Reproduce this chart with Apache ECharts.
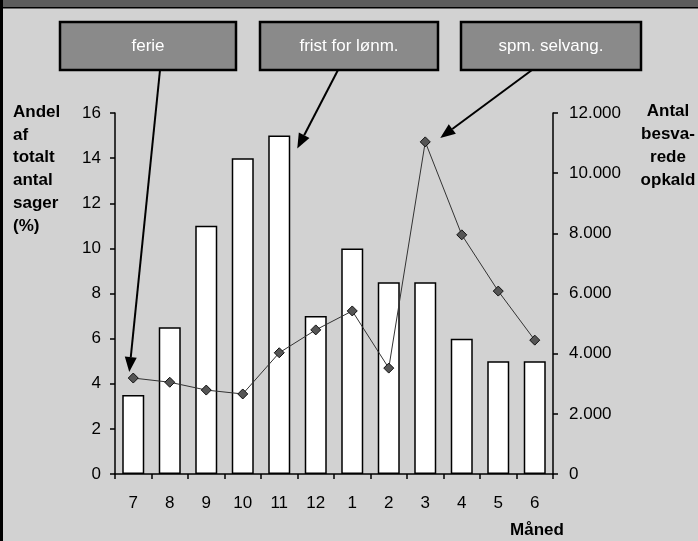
<!DOCTYPE html>
<html>
<head>
<meta charset="utf-8">
<script src="https://cdn.jsdelivr.net/npm/echarts@6/dist/echarts.min.js"></script>
<style>
html,body{margin:0;padding:0;background:#d2d2d2;}
#chart{width:698px;height:541px;}
</style>
</head>
<body>
<div id="chart"></div>
<script>
// Data
var months = ['7','8','9','10','11','12','1','2','3','4','5','6'];
var shareOfCases = [3.5, 6.5, 11, 14, 15, 7, 10, 8.5, 8.5, 6, 5, 5];          // left axis (%)
var answeredCalls = [3190, 3050, 2790, 2660, 4030, 4790, 5420, 3520, 11040, 7950, 6080, 4450]; // right axis
var leftTicks = {min: 0, max: 16, interval: 2};
var rightTicks = {min: 0, max: 12000, interval: 2000};
var leftTitle = 'Andel\naf\ntotalt\nantal\nsager\n(%)';
var rightTitle = 'Antal\nbesva-\nrede\nopkald';
var xTitle = 'Måned';
var notes = ['ferie', 'frist for lønm.', 'spm. selvang.'];

var FONT = '"Liberation Sans", Arial, sans-serif';
var chart = echarts.init(document.getElementById('chart'), null, {renderer: 'canvas'});

function fmtThousands(v) {
  return String(v).replace(/\B(?=(\d{3})+(?!\d))/g, '.');
}

var option = {
  backgroundColor: '#d2d2d2',
  animation: false,
  grid: {left: 115, right: 145, top: 113, bottom: 67},
  xAxis: {
    type: 'category',
    data: months,
    boundaryGap: true,
    axisLine: {lineStyle: {color: '#000', width: 1.5}},
    axisTick: {show: true, length: 5, lineStyle: {color: '#000', width: 1.5}},
    axisLabel: {color: '#000', fontFamily: FONT, fontSize: 17, margin: 21}
  },
  yAxis: [{
    type: 'value',
    min: leftTicks.min, max: leftTicks.max, interval: leftTicks.interval,
    position: 'left',
    axisLine: {show: true, lineStyle: {color: '#000', width: 1.5}},
    axisTick: {show: true, length: 5, lineStyle: {color: '#000', width: 1.5}},
    axisLabel: {color: '#000', fontFamily: FONT, fontSize: 17, margin: 14},
    splitLine: {show: false}
  }, {
    type: 'value',
    min: rightTicks.min, max: rightTicks.max, interval: rightTicks.interval,
    position: 'right',
    axisLine: {show: true, lineStyle: {color: '#000', width: 1.5}},
    axisTick: {show: true, length: 5, lineStyle: {color: '#000', width: 1.5}},
    axisLabel: {color: '#000', fontFamily: FONT, fontSize: 17, margin: 16, formatter: fmtThousands},
    splitLine: {show: false}
  }],
  series: [{
    type: 'bar',
    data: shareOfCases,
    yAxisIndex: 0,
    barWidth: 22,
    itemStyle: {color: '#fff', borderColor: '#000', borderWidth: 1.5},
    z: 2
  }, {
    type: 'line',
    data: answeredCalls,
    yAxisIndex: 1,
    symbol: 'diamond',
    symbolSize: 10,
    lineStyle: {color: '#333', width: 1},
    itemStyle: {color: '#555', borderColor: '#111', borderWidth: 1},
    z: 3
  }]
};
chart.setOption(option);

// Annotations: boxes and arrows pointing at data positions
var boxes = [
  {x: 60, w: 176},
  {x: 260, w: 178},
  {x: 461, w: 180}
];
var boxTop = 22, boxH = 48;

var p7 = chart.convertToPixel({xAxisIndex: 0, yAxisIndex: 1}, [0, answeredCalls[0]]);
var p11 = chart.convertToPixel({xAxisIndex: 0, yAxisIndex: 0}, [4, shareOfCases[4]]);
var p3 = chart.convertToPixel({xAxisIndex: 0, yAxisIndex: 1}, [8, answeredCalls[8]]);

var arrows = [
  {from: [160, boxTop + boxH], to: [p7[0] - 4, p7[1] - 6]},
  {from: [338, boxTop + boxH], to: [p11[0] + 18, p11[1] + 13]},
  {from: [532, boxTop + boxH], to: [p3[0] + 15, p3[1] - 4]}
];

var g = [];
// top band and left border
g.push({type: 'rect', shape: {x: 0, y: 0, width: 698, height: 7}, style: {fill: '#5c5c5c'}, z: 10});
g.push({type: 'rect', shape: {x: 0, y: 7, width: 698, height: 1.5}, style: {fill: '#000'}, z: 10});
g.push({type: 'rect', shape: {x: 0, y: 0, width: 3, height: 541}, style: {fill: '#000'}, z: 10});

boxes.forEach(function (b, i) {
  g.push({type: 'rect', shape: {x: b.x, y: boxTop, width: b.w, height: boxH},
    style: {fill: '#8a8a8a', stroke: '#000', lineWidth: 2.5}, z: 10});
  g.push({type: 'text', x: b.x + b.w / 2, y: boxTop + boxH / 2,
    style: {text: notes[i], fill: '#fff', font: '17px ' + FONT, align: 'center', verticalAlign: 'middle'}, z: 11});
});

arrows.forEach(function (a) {
  var dx = a.to[0] - a.from[0], dy = a.to[1] - a.from[1];
  var len = Math.sqrt(dx * dx + dy * dy);
  var ux = dx / len, uy = dy / len;
  var headL = 15, headW = 6;
  var bx = a.to[0] - ux * headL, by = a.to[1] - uy * headL;
  g.push({type: 'line', shape: {x1: a.from[0], y1: a.from[1], x2: bx, y2: by},
    style: {stroke: '#000', lineWidth: 2}, z: 12});
  g.push({type: 'polygon', shape: {points: [
    [a.to[0], a.to[1]],
    [bx - uy * headW, by + ux * headW],
    [bx + uy * headW, by - ux * headW]
  ]}, style: {fill: '#000'}, z: 12});
});

g.push({type: 'text', x: 13, y: 101,
  style: {text: leftTitle, fill: '#000', font: 'bold 17px ' + FONT, lineHeight: 22.7, align: 'left', verticalAlign: 'top'}, z: 11});
g.push({type: 'text', x: 668, y: 100,
  style: {text: rightTitle, fill: '#000', font: 'bold 17px ' + FONT, lineHeight: 23, align: 'center', verticalAlign: 'top'}, z: 11});
g.push({type: 'text', x: 537, y: 530,
  style: {text: xTitle, fill: '#000', font: 'bold 17px ' + FONT, align: 'center', verticalAlign: 'middle'}, z: 11});

chart.setOption({graphic: g});
</script>
</body>
</html>
